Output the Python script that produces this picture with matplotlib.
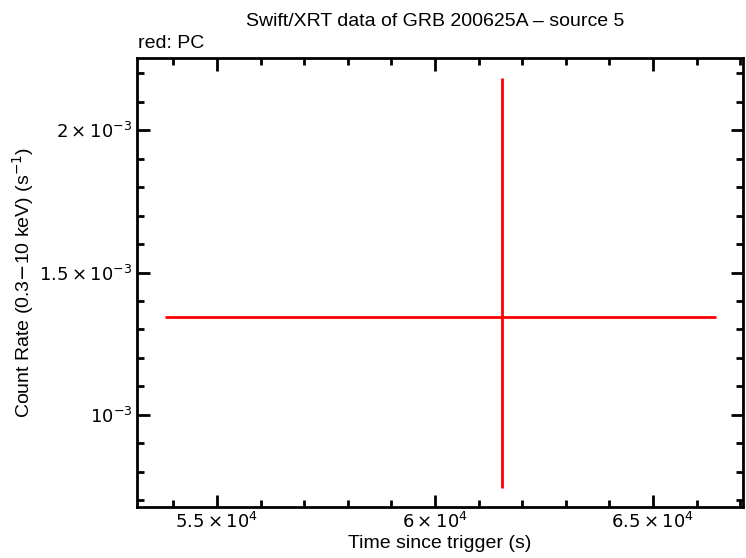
import matplotlib
matplotlib.use("Agg")
import matplotlib.pyplot as plt
from matplotlib.ticker import MultipleLocator, FuncFormatter

plt.rcParams['font.family'] = ['Liberation Sans', 'DejaVu Sans']

# PC data point
t = [61540]
t_lo = [61540 - 53810]
t_hi = [66450 - 61540]
rate = [1.344e-3]
rate_lo = [1.344e-3 - 0.744e-3]
rate_hi = [2.183e-3 - 1.344e-3]

fig = plt.figure(figsize=(7.46, 5.58), dpi=100)
ax = fig.add_axes([0.1836, 0.0914, 0.8123, 0.8047])

ax.errorbar(t, rate, xerr=[t_lo, t_hi], yerr=[rate_lo, rate_hi],
            fmt='none', ecolor='red', elinewidth=2, capsize=0)

ax.set_xlim(53165, 67064)
ax.set_ylim(0.677e-3, 2.253e-3)

ax.xaxis.set_major_locator(MultipleLocator(5000))
ax.xaxis.set_minor_locator(MultipleLocator(1000))
ax.yaxis.set_major_locator(MultipleLocator(0.5e-3))
ax.yaxis.set_minor_locator(MultipleLocator(0.1e-3))

def xfmt(v, pos):
    m = v / 1e4
    s = ('%g' % m)
    return r'$%s\times10^{4}$' % s

def yfmt(v, pos):
    m = v / 1e-3
    if abs(m - 1) < 1e-6:
        return r'$10^{-3}$'
    return r'$%g\times10^{-3}$' % m

ax.xaxis.set_major_formatter(FuncFormatter(xfmt))
ax.yaxis.set_major_formatter(FuncFormatter(yfmt))
plt.rcParams['mathtext.fontset'] = 'custom'

ax.tick_params(which='both', direction='in', top=True, right=True, width=2, labelsize=13)
ax.tick_params(which='major', length=9)
ax.tick_params(which='minor', length=5)
for sp in ax.spines.values():
    sp.set_linewidth(2)

ax.set_xlabel('Time since trigger (s)', fontsize=14, labelpad=2)
ax.set_ylabel(r'Count Rate (0.3$-$10 keV) (s$^{-1}$)', fontsize=14, labelpad=2)
fig.text(0.584, 0.962, 'Swift/XRT data of GRB 200625A \u2013 source 5', ha='center', va='center', fontsize=14)
fig.text(0.185, 0.922, 'red: PC', ha='left', va='center', fontsize=14)

fig.savefig('out.png', dpi=100)
